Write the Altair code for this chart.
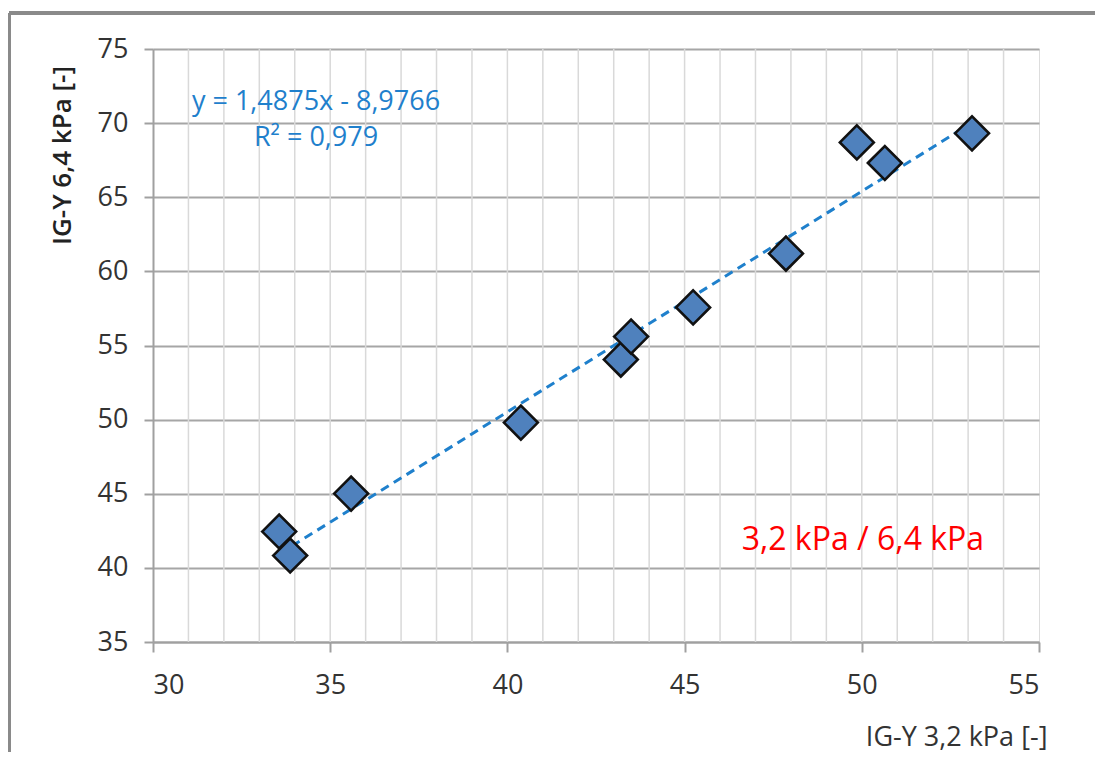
import altair as alt
import pandas as pd

# Data
x_vals = [33.56, 33.87, 35.59, 40.38, 43.20, 43.49, 45.24, 47.86, 49.86, 50.65, 53.11]
y_vals = [42.45, 40.83, 45.01, 49.80, 54.05, 55.60, 57.57, 61.20, 68.70, 67.31, 69.31]

slope = 1.4875
intercept = -8.9766
eq_lines = ["y = 1,4875x - 8,9766", "R² = 0,979"]
series_label = "3,2 kPa / 6,4 kPa"

x_ticks = [30, 35, 40, 45, 50, 55]
y_ticks = [35, 40, 45, 50, 55, 60, 65, 70, 75]
x_minor = list(range(31, 55))

W, H = 886, 593
FONT = "Open Sans"

pts = pd.DataFrame({"x": x_vals, "y": y_vals})
xmin, xmax = min(x_vals), max(x_vals)
trend = pd.DataFrame({"x": [xmin, xmax], "y": [slope * xmin + intercept, slope * xmax + intercept]})

xs = alt.Scale(domain=[30, 55], nice=False, zero=False)
ys = alt.Scale(domain=[35, 75], nice=False, zero=False)

xgrid = alt.Chart(pd.DataFrame({"x": x_minor})).mark_rule(color="#d9d9d9", strokeWidth=1.5).encode(
    x=alt.X("x:Q", scale=xs),
    y=alt.value(0), y2=alt.value(H),
)

base = alt.Chart(pts).mark_point(
    shape="diamond", size=1150, filled=True, fill="#4f81bd", stroke="#111111", strokeWidth=2.6, opacity=1
).encode(
    x=alt.X("x:Q", scale=xs, axis=alt.Axis(
        values=x_ticks, grid=False, title="IG-Y 3,2 kPa [-]",
        titleX=894, titleY=95, titleAlign="right", titleBaseline="middle", titleAngle=0,
        titleFontWeight="normal", titleFontSize=27, titleColor="#333333", titleFont=FONT,
        labelFontSize=27, labelFont=FONT, labelColor="#333333", labelPadding=20,
        tickSize=10, tickColor="#a0a0a0", tickWidth=2, domainColor="#a0a0a0", domainWidth=2,
    )),
    y=alt.Y("y:Q", scale=ys, axis=alt.Axis(
        values=y_ticks, grid=True, gridColor="#a6a6a6", gridWidth=2, title="IG-Y 6,4 kPa [-]",
        titleX=-91, titleY=106, titleAlign="center", titleBaseline="middle", titleAngle=270,
        titleFontWeight=600, titleFontSize=26, titleColor="#222222", titleFont=FONT,
        labelFontSize=27, labelFont=FONT, labelColor="#333333", labelPadding=16,
        tickSize=9, tickColor="#a0a0a0", tickWidth=2, domainColor="#a0a0a0", domainWidth=2,
    )),
)

trend_line = alt.Chart(trend).mark_line(color="#1f80cc", strokeWidth=3, strokeDash=[9, 6]).encode(
    x=alt.X("x:Q", scale=xs), y=alt.Y("y:Q", scale=ys)
)

eq_df = pd.DataFrame({"x": [34.6, 34.6], "y": [71.45, 69.0], "t": eq_lines})
eq_text = alt.Chart(eq_df).mark_text(font=FONT, fontSize=27, color="#1f80cc", align="center", baseline="middle").encode(
    x=alt.X("x:Q", scale=xs), y=alt.Y("y:Q", scale=ys), text="t:N"
)

lab_df = pd.DataFrame({"x": [50.03], "y": [41.9], "t": [series_label]})
lab_text = alt.Chart(lab_df).mark_text(font=FONT, fontSize=32, color="#ff0000", align="center", baseline="middle").encode(
    x=alt.X("x:Q", scale=xs), y=alt.Y("y:Q", scale=ys), text="t:N"
)

# outer chart frame (top and left edges visible in the reference)
frame_left = alt.Chart(pts).mark_rule(color="#8a8a8a", strokeWidth=3).encode(
    x=alt.value(-144), y=alt.value(-36), y2=alt.value(H + 140)
)
frame_top = alt.Chart(pts).mark_rule(color="#8a8a8a", strokeWidth=3).encode(
    x=alt.value(-144), x2=alt.value(W + 56), y=alt.value(-36)
)

chart = alt.layer(xgrid, trend_line, base, eq_text, lab_text, frame_left, frame_top).properties(
    width=W, height=H,
    autosize=alt.AutoSizeParams(type="none"),
    padding={"left": 145, "top": 41, "right": 56, "bottom": 110},
).configure_view(stroke="#a0a0a0", strokeWidth=2).configure(background="white")

chart.save("out.html", embed_options={"renderer": "svg", "actions": False})
